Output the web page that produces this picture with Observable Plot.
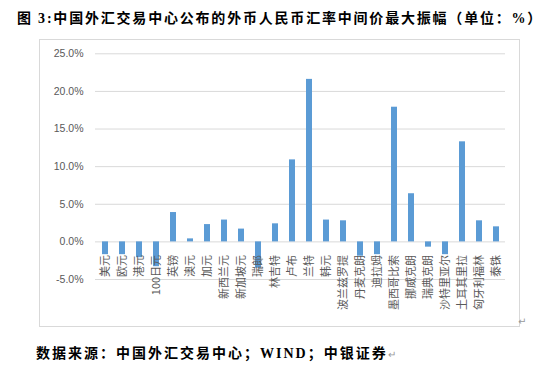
<!DOCTYPE html>
<html>
<head>
<meta charset="utf-8">
<script src="https://cdn.jsdelivr.net/npm/d3@7"></script>
<script src="https://cdn.jsdelivr.net/npm/@observablehq/plot@0.6"></script>
<style>
  html, body { margin: 0; padding: 0; background: #fff; }
  #wrap { position: relative; width: 554px; height: 374px; overflow: hidden; }
  #title { position: absolute; left: 17px; top: 10px; line-height: 18px; font-family: "Liberation Serif", "Noto Sans CJK SC", serif; font-weight: bold; font-size: 14px; letter-spacing: 1.8px; color: #000; white-space: nowrap; }
  #frame { position: absolute; left: 39px; top: 39px; width: 481px; height: 288px; box-sizing: border-box; border: 1px solid #d9d9d9; }
  #caption { position: absolute; left: 36px; top: 345px; line-height: 18px; font-family: "Liberation Serif", "Noto Sans CJK SC", serif; font-weight: bold; font-size: 14px; letter-spacing: 2px; color: #000; white-space: nowrap; }
  .mark { font-weight: normal; color: #9a9a9a; font-size: 10px; letter-spacing: 0; }
  #pmark { position: absolute; left: 518px; top: 316px; font-size: 10px; color: #9a9a9a; font-family: "DejaVu Sans", sans-serif; }
  #chart { position: absolute; left: 0; top: 0; }
</style>
</head>
<body>
<div id="wrap">
  <div id="frame"></div>
  <div id="chart"></div>
  <div id="title">图 3:中国外汇交易中心公布的外币人民币汇率中间价最大振幅（单位：%）</div>
  <div id="caption">数据来源：中国外汇交易中心；WIND；中银证券<span class="mark">↵</span></div>
  <div id="pmark">↵</div>
</div>
<script>
const categories = ["美元","欧元","港元","100日元","英镑","澳元","加元","新西兰元","新加坡元","瑞郎","林吉特","卢布","兰特","韩元","波兰兹罗提","丹麦克朗","迪拉姆","墨西哥比索","挪威克朗","瑞典克朗","沙特里亚尔","土耳其里拉","匈牙利福林","泰铢"];
const values = [-1.7,-1.7,-2.1,-3.3,3.9,0.4,2.3,2.9,1.7,-3.5,2.4,10.9,21.6,2.9,2.8,-1.9,-1.7,17.9,6.4,-0.7,-1.7,13.3,2.8,2.0];
const yTicks = [-5,0,5,10,15,20,25];

const data = categories.map((c, i) => ({category: c, value: values[i]}));

const chart = Plot.plot({
  width: 554,
  height: 374,
  marginLeft: 95,
  marginRight: 49,
  marginTop: 53,
  marginBottom: 95,
  style: {background: "none", overflow: "visible", color: "#595959", fontFamily: "'Liberation Sans', 'Noto Sans CJK SC', sans-serif", fontSize: "10.5px"},
  x: {domain: categories, axis: null, paddingInner: 0.67, paddingOuter: 0.335},
  y: {domain: [-5, 25], range: [279, 53.3], ticks: yTicks, tickFormat: d => d.toFixed(1) + "%", tickSize: 0, tickPadding: 12, label: null},
  marks: [
    Plot.ruleY(yTicks, {stroke: "#d9d9d9", strokeWidth: 1}),
    Plot.barY(data, {x: "category", y: "value", fill: "#5b9bd5"}),
    Plot.text(data, {
      x: "category",
      y: () => 0,
      text: "category",
      rotate: -90,
      textAnchor: "end",
      dy: 13,
      fill: "#595959",
      fontSize: 11,
      fontFamily: "'Noto Sans CJK SC', sans-serif"
    })
  ]
});
document.getElementById("chart").appendChild(chart);
</script>
</body>
</html>
